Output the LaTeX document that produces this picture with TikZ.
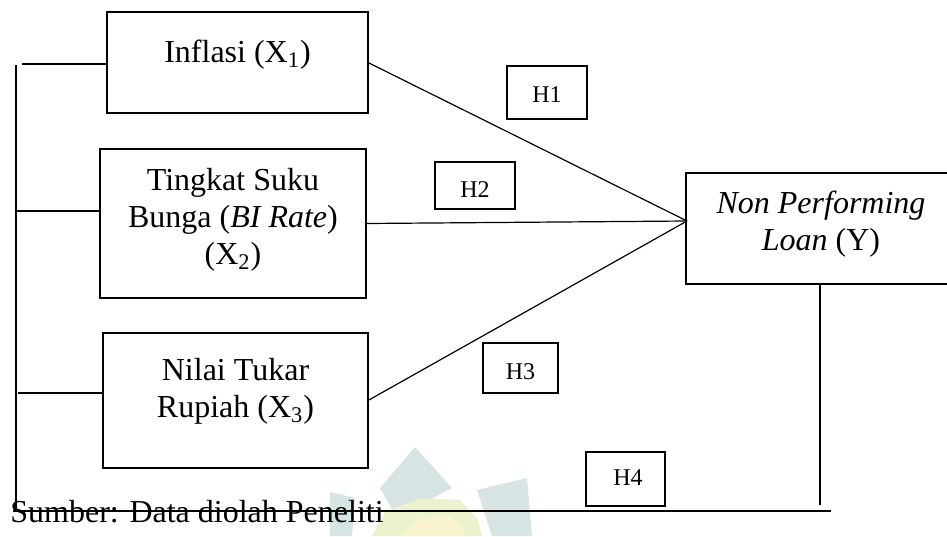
\documentclass[tikz,border=0pt]{standalone}
\usepackage{fontspec}
\setmainfont{Liberation Serif}
\definecolor{wmblue}{RGB}{214,228,228}
\definecolor{wmgreen}{RGB}{236,242,206}
\definecolor{wmyellow}{RGB}{250,244,206}
\begin{document}
\begin{tikzpicture}[x=0.5pt,y=-0.5pt,
  box/.style={draw, line width=1pt, inner sep=0pt, outer sep=0pt},
  txt/.style={anchor=base, inner sep=0pt, font=\fontsize{16}{18.5}\selectfont},
  htxt/.style={anchor=base, inner sep=0pt, font=\fontsize{12}{14}\selectfont},
  conn/.style={line width=0.6pt}]
\useasboundingbox (0,0) rectangle (947,536);
\clip (0,0) rectangle (947,536);
% faint watermark
\fill[wmblue] (380,488) -- (415,447) -- (452,488) -- (420,505) -- (398,520) -- cycle;
\fill[wmblue] (477,490) -- (527,478) -- (532,536) -- (492,536) -- cycle;
\fill[wmblue] (330,492) -- (355,498) -- (352,536) -- (330,536) -- cycle;
\fill[wmgreen] (372,536) -- (385,512) -- (420,498) -- (460,500) -- (478,520) -- (482,536) -- cycle;
\fill[wmyellow] (400,536) -- (418,520) -- (450,516) -- (468,536) -- cycle;
% boxes
\node[box, minimum width=130.5pt, minimum height=50.5pt] (x1) at (237.5,62.5) {};
\node[box, minimum width=133pt, minimum height=74.5pt] (x2) at (233,223.5) {};
\node[box, minimum width=132.5pt, minimum height=67.5pt] (x3) at (235.5,400.5) {};
\node[box, minimum width=136pt, minimum height=55.5pt] (y) at (822,228.5) {};
\node[box, minimum width=40pt, minimum height=26.5pt] (h1) at (547,92.5) {};
\node[box, minimum width=40pt, minimum height=23.5pt] (h2) at (475,185.5) {};
\node[box, minimum width=37.5pt, minimum height=25pt] (h3) at (520.5,368) {};
\node[box, minimum width=39.5pt, minimum height=27pt] (h4) at (625.5,479) {};
% texts
\node[txt] (t1) at (237.5,62) {Inflasi (X\textsubscript{1})};
\node[txt] (t2a) at (233,190) {Tingkat Suku};
\node[txt] (t2b) at (233,227) {Bunga (\textit{BI Rate})};
\node[txt] (t2c) at (233,264) {(X\textsubscript{2})};
\node[txt] (t3a) at (235.5,380) {Nilai Tukar};
\node[txt] (t3b) at (235.5,417) {Rupiah (X\textsubscript{3})};
\node[txt] (tya) at (821,213) {\textit{Non Performing}};
\node[txt] (tyb) at (821,250) {\textit{Loan} (Y)};
\node[htxt] (th1) at (547,102) {H1};
\node[htxt] (th2) at (475,197) {H2};
\node[htxt] (th3) at (520.5,379) {H3};
\node[htxt] (th4) at (628,485) {H4};
\node[txt, anchor=base west] (src) at (10,522) {Sumber: Data diolah Peneliti};
% connectors to Y
\coordinate (conv) at (687,221);
\draw[conn] (x1.east) -- (conv);
\draw[conn] (x2.east) -- (conv);
\draw[conn] (x3.east) -- (conv);
% left bracket
\coordinate (lt) at (16,65);
\coordinate (lb) at (16,508);
\coordinate (r1) at (22,64);
\coordinate (r2) at (16,211);
\coordinate (r3) at (18,393);
\draw[conn] (lt) -- (lb);
\draw[conn] (r1) -- (r1 -| x1.west);
\draw[conn] (r2) -- (r2 -| x2.west);
\draw[conn] (r3) -- (r3 -| x3.west);
% H4 path
\coordinate (bl) at (13,511);
\coordinate (br) at (831,511);
\coordinate (yb) at (820,505);
\draw[conn] (bl) -- (br);
\draw[conn] (yb |- y.south) -- (yb);
\end{tikzpicture}
\end{document}
